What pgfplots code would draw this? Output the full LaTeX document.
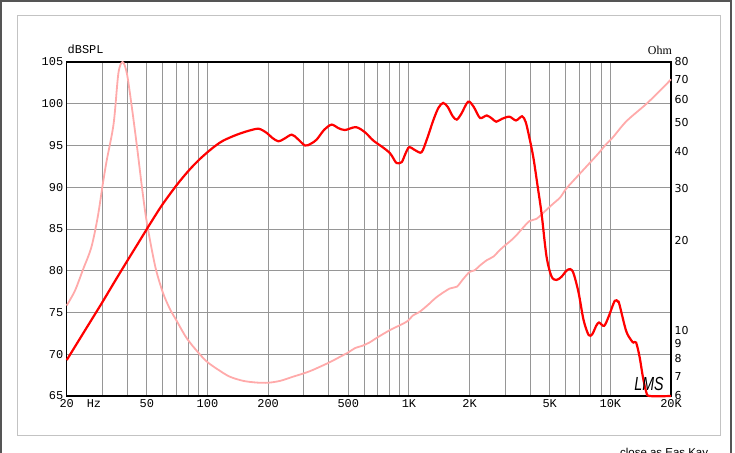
\documentclass[border=0pt]{standalone}
\usepackage{fontspec}
\setmainfont{Liberation Serif}
\newfontfamily\monof{Liberation Mono}
\newfontfamily\sansf{DejaVu Sans}
\newfontfamily\arialf{Liberation Sans}
\usepackage{pgfplots}
\pgfplotsset{compat=1.18}

\definecolor{spl}{RGB}{255,0,0}
\definecolor{imp}{RGB}{255,170,170}
\definecolor{gridc}{RGB}{150,150,150}
\definecolor{framec}{RGB}{85,85,85}
\definecolor{boxc}{RGB}{195,195,195}

\begin{document}
\begin{tikzpicture}
\useasboundingbox (0,0) rectangle (735bp,453bp);

% outer frames
\draw[framec, line width=2bp] (1.2bp,0) -- (1.2bp,452.2bp) -- (731bp,452.2bp) -- (731bp,0);
\draw[boxc, line width=1bp] (17bp,17bp) rectangle (720bp,437bp);

% grid, box and dB / Hz labels
\begin{axis}[
  at={(66.7bp,57bp)}, anchor=south west,
  scale only axis, width=604.3bp, height=334bp,
  xmode=log, xmin=20, xmax=20000, clip=false,
  major tick length=0pt,
  /pgf/number format/assume math mode=true,
  ymin=65, ymax=105, ytick={65,70,...,105},
  xtick={20,30,40,50,60,70,80,90,100,200,300,400,500,600,700,800,900,1000,2000,3000,4000,5000,6000,7000,8000,9000,10000,20000},
  xticklabels={20,,,50,,,,,100,200,,,500,,,,,1K,2K,,,5K,,,,,10K,20K},
  extra x ticks={27.3}, extra x tick labels={Hz},
  extra x tick style={grid=none},
  grid=major, major grid style={gridc, line width=0.9bp},
  axis line style={black, line width=1.4bp},
  xticklabel style={font=\monof\fontsize{12}{12}\selectfont},
  yticklabel style={font=\monof\fontsize{12}{12}\selectfont},
]
\end{axis}

% impedance
\begin{axis}[
  at={(66.7bp,57bp)}, anchor=south west,
  scale only axis, width=604.3bp, height=334bp,
  xmode=log, xmin=20, xmax=20000, clip=false,
  major tick length=0pt,
  /pgf/number format/assume math mode=true,
  ymode=log, ymin=6, ymax=80,
  hide x axis, y axis line style={draw=none},
  yticklabel pos=right,
  ytick={6,7,8,9,10,20,30,40,50,60,70,80},
  yticklabels={6,7,8,9,10,20,30,40,50,60,70,80},
  yticklabel style={font=\sansf\fontsize{11}{11}\selectfont},
]
\addplot[imp, line width=1.8bp, smooth] coordinates {
(20,12.1) (22,13.6) (24.1,16.0) (26.5,19.0) (28.5,24.0) (30.2,31.0) (31.6,37.3)
(34.2,49.6) (36.1,73.2) (37.9,80.0) (39.8,73.2) (42.1,56.4) (44.7,41.3)
(47.5,29.5) (50,23.0) (55,16.4) (60,13.4) (65,11.8) (70,10.8)
(78.8,9.4) (90,8.4) (100,7.8) (115,7.3) (129,6.97) (150,6.75)
(175,6.66) (200,6.65) (230,6.75) (266,6.97) (300,7.15) (333,7.34)
(405,7.8) (450,8.1) (498,8.4) (540,8.7) (585,8.85) (640,9.1)
(689,9.4) (804,10.0) (973,10.67) (1045,11.2) (1125,11.5) (1250,12.2)
(1368,12.9) (1590,13.8) (1728,14.0) (1850,14.8) (2000,15.7) (2118,15.9)
(2250,16.5) (2435,17.2) (2630,17.7) (2800,18.5) (3000,19.3) (3200,20.0)
(3400,20.8) (3700,22.2) (3970,23.3) (4300,23.7) (4600,24.7) (5180,26.6)
(5640,28.0) (6000,29.8) (6560,31.9) (7500,35.2) (8700,39.3) (9500,42.2)
(10290,44.6) (12000,50.5) (15000,57.6) (17500,63.7) (20000,69.9)
};
\end{axis}

% SPL
\begin{axis}[
  at={(66.7bp,57bp)}, anchor=south west,
  scale only axis, width=604.3bp, height=334bp,
  xmode=log, xmin=20, xmax=20000, clip=false,
  ymin=65, ymax=105, hide axis]
\addplot[spl, line width=2.2bp, smooth] coordinates {
(20,69.3) (25,73.1) (30,76.2) (35,78.9) (40,81.2) (45,83.2) (50,85.0)
(55,86.6) (60,88.0) (70,90.2) (80,91.9) (90,93.2) (100,94.2) (110,95.0)
(120,95.6) (140,96.3) (162,96.8) (180,97.0) (197,96.5) (210,95.9)
(225,95.5) (240,95.8) (262,96.3) (280,95.8) (305,95.0) (325,95.2)
(348,95.7) (380,96.9) (413,97.5) (445,97.1) (481,96.85) (545,97.2)
(604,96.6) (665,95.6) (745,94.75) (804,94.1) (840,93.4) (868,92.9)
(920,93.0) (960,94.0) (1003,94.8) (1080,94.4) (1156,94.2) (1230,95.8)
(1320,98.0) (1400,99.5) (1479,100.1) (1560,99.6) (1650,98.5) (1728,98.1)
(1820,98.8) (1968,100.25) (2100,99.6) (2254,98.3) (2435,98.6) (2590,98.2)
(2713,97.85) (2900,98.2) (3156,98.45) (3400,98.0) (3645,98.5) (3800,97.8)
(3970,95.85) (4150,93.5) (4355,90.1) (4551,86.9) (4820,81.7) (5106,79.3)
(5410,78.9) (5730,79.3) (6050,80.0) (6320,80.2) (6560,79.7) (6950,77.4)
(7360,74.1) (7800,72.3) (8130,72.4) (8500,73.4) (8780,73.8) (9310,73.4)
(9800,74.5) (10510,76.4) (10900,76.3) (11080,76.0) (11970,72.8) (12670,71.7)
(13000,71.4) (13420,71.4) (13960,69.7) (14500,67.3) (15060,65.5) (15660,65)
(20000,65)
};
\end{axis}

% titles and marks
\node[anchor=base west, inner sep=0, font=\monof\fontsize{12}{12}\selectfont] at (67.5bp,399bp) {dBSPL};
\node[anchor=base east, inner sep=0, font=\fontsize{12}{12}\selectfont] at (672bp,398bp) {Ohm};
\node[inner sep=0, xscale=0.75, font=\arialf\itshape\fontsize{19}{19}\selectfont] at (649bp,69bp) {LMS};
\node[anchor=base west, inner sep=0, font=\arialf\fontsize{11.5}{11.5}\selectfont] at (620bp,-3bp) {close as Eas Kay};
\end{tikzpicture}
\end{document}
